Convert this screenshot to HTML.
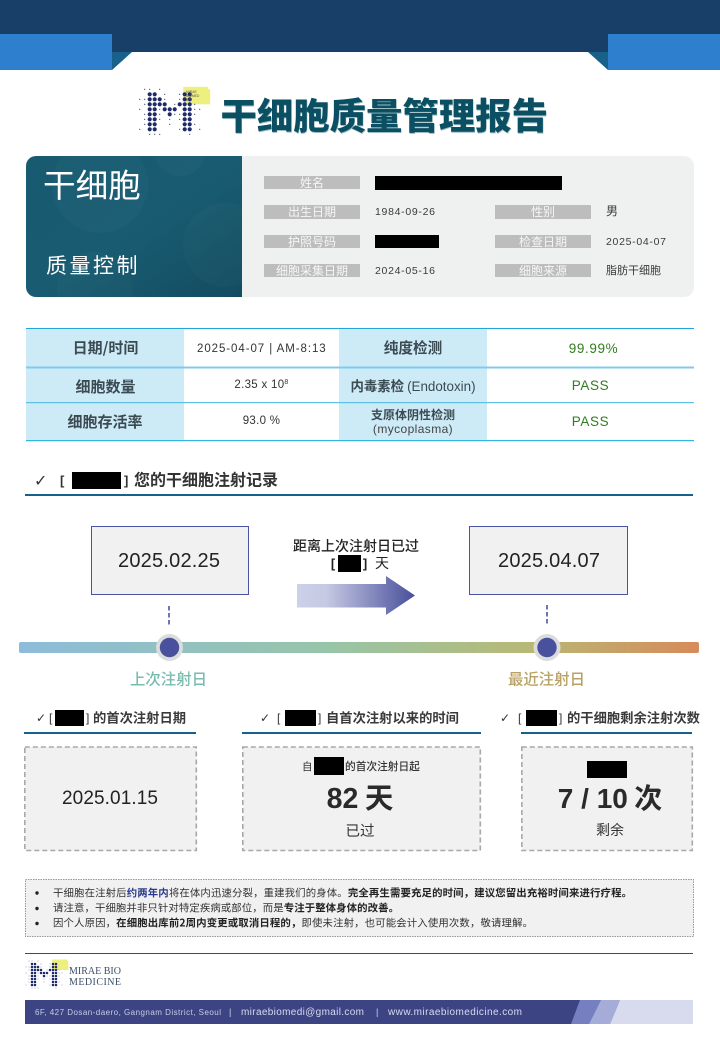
<!DOCTYPE html>
<html lang="zh"><head><meta charset="utf-8"><title>干细胞质量管理报告</title>
<style>
html,body{margin:0;padding:0;background:#fff}
svg{display:block}
text{font-family:"Liberation Sans","Noto Sans CJK SC",sans-serif;fill:#333}
.cj{font-family:"Noto Sans CJK SC","Liberation Sans",sans-serif}
.c{text-anchor:middle}
.b{font-weight:700}
.lb{font-size:12px;fill:#f6f6f6;text-anchor:middle;font-family:"Noto Sans CJK SC",sans-serif}
.v{font-size:10.5px;fill:#3a3a3a}
.th{font-size:15px;font-weight:700;fill:#3c4a52;text-anchor:middle;font-family:"Noto Sans CJK SC",sans-serif}
.td{font-size:11.5px;fill:#333;text-anchor:middle;letter-spacing:.3px}
.g{font-size:13.5px;fill:#2f7d1e;text-anchor:middle;letter-spacing:.6px}
.sh{font-size:13.3px;font-weight:700;fill:#3a3a3a;font-family:"Noto Sans CJK SC",sans-serif}
.n{font-size:10.4px;fill:#333;font-family:"Noto Sans CJK SC",sans-serif}
.nb{font-weight:700;fill:#222}
</style></head><body>
<svg width="720" height="1040" viewBox="0 0 720 1040" xmlns="http://www.w3.org/2000/svg">
<defs>
<linearGradient id="pn" x1="0" y1="0" x2="1" y2="1"><stop offset="0" stop-color="#185a70"/><stop offset=".5" stop-color="#195c72"/><stop offset="1" stop-color="#134c60"/></linearGradient>
<linearGradient id="ar" x1="0" x2="1"><stop offset="0" stop-color="#cdd0e8"/><stop offset=".25" stop-color="#c6c9e3"/><stop offset="1" stop-color="#484f9c"/></linearGradient>
<linearGradient id="tl" x1="0" x2="1"><stop offset="0" stop-color="#8dbcdb"/><stop offset=".45" stop-color="#97c5a9"/><stop offset=".75" stop-color="#b7b975"/><stop offset="1" stop-color="#d78a5a"/></linearGradient>
<clipPath id="cp"><rect x="26" y="156" width="216" height="141"/></clipPath>
<g id="logo">
<rect x="43.5" y="-2.5" width="25" height="15" fill="#eef07e"/><rect x="45.5" y="0" width="25" height="15" fill="#eef07e"/>
<path fill="none" stroke="#1f2b68" stroke-width="1.2" stroke-linecap="round" d="M5 0h0M10 0h0M20 0h0M25 5h0M40 5h0M0 10h0M5 10h0M25 10h0M40 10h0M5 15h0M35 15h0M55 15h0M0 20h0M20 20h0M55 20h0M60 20h0M5 25h0M20 25h0M35 25h0M40 25h0M55 25h0M5 30h0M20 30h0M30 30h0M40 30h0M5 35h0M30 35h0M55 35h0M0 40h0M40 40h0M60 40h0M10 45h0M15 45h0M20 45h0M50 45h0"/>
<path fill="none" stroke="#1f2b68" stroke-width="4.2" stroke-linecap="round" d="M10 5h0M15 5h0M45 5h0M50 5h0M10 10h0M15 10h0M20 10h0M45 10h0M50 10h0M10 15h0M15 15h0M20 15h0M25 15h0M40 15h0M45 15h0M50 15h0M10 20h0M15 20h0M25 20h0M30 20h0M35 20h0M45 20h0M50 20h0M10 25h0M15 25h0M30 25h0M45 25h0M50 25h0M10 30h0M15 30h0M45 30h0M50 30h0M10 35h0M15 35h0M45 35h0M50 35h0M10 40h0M15 40h0M45 40h0M50 40h0"/>
</g>
</defs>

<!-- header -->
<rect width="720" height="52" fill="#173f67"/>
<path d="M112 52h20L112 70zM588 52h20v18z" fill="#17618a"/>
<rect x="0" y="34" width="112" height="36" fill="#2e7fcd"/>
<rect x="608" y="34" width="112" height="36" fill="#2e7fcd"/>

<!-- title -->
<use href="#logo" x="139.7" y="89.3"/>
<text x="186" y="93" font-size="3.4" style="fill:#555">MIRAE</text><text x="186" y="97" font-size="3.4" style="fill:#555">BIOMED</text><text x="186" y="101" font-size="3.4" style="fill:#555">BIO</text>
<text x="221" y="130" class="cj" font-size="36.4" style="fill:#9dbcc4;font-weight:900">干细胞质量管理报告</text>
<text x="220.5" y="129" class="cj" font-size="36.4" style="fill:#0b4f63;font-weight:900">干细胞质量管理报告</text>

<!-- card -->
<rect x="26" y="156" width="668" height="141" rx="10" fill="#eff0f0"/>
<path d="M36 156H242V297H36a10 10 0 0 1-10-10V166a10 10 0 0 1 10-10z" fill="url(#pn)"/>
<g clip-path="url(#cp)" fill="#fff" fill-opacity=".02"><circle cx="100" cy="185" r="48"/><circle cx="225" cy="245" r="42"/><circle cx="95" cy="290" r="38"/><circle cx="180" cy="150" r="26"/></g>
<text x="43" y="197" class="cj" font-size="32.6" style="fill:#fff;font-weight:400">干细胞</text>
<text x="46" y="273" class="cj" font-size="21" letter-spacing="2.5" style="fill:#fff;font-weight:400">质量控制</text>
<g fill="#bdbdbd">
<rect x="264" y="176" width="96" height="13"/><rect x="264" y="205" width="96" height="14"/><rect x="264" y="235" width="96" height="13"/><rect x="264" y="264" width="96" height="13"/>
<rect x="495" y="205" width="96" height="14"/><rect x="495" y="235" width="96" height="13"/><rect x="495" y="264" width="96" height="13"/>
</g>
<text x="312" y="187" class="lb">姓名</text><text x="312" y="216" class="lb">出生日期</text><text x="312" y="246" class="lb">护照号码</text><text x="312" y="275" class="lb">细胞采集日期</text>
<text x="543" y="216" class="lb">性别</text><text x="543" y="246" class="lb">检查日期</text><text x="543" y="275" class="lb">细胞来源</text>
<rect x="375" y="176" width="187" height="14" fill="#000"/><rect x="375" y="235" width="64" height="13" fill="#000"/>
<text x="375" y="215" class="v" textLength="60">1984-09-26</text><text x="375" y="274" class="v" textLength="60">2024-05-16</text>
<text x="606" y="215" class="cj" font-size="12" style="fill:#3a3a3a">男</text><text x="606" y="245" class="v" textLength="60">2025-04-07</text><text x="606" y="274" class="cj" font-size="11" style="fill:#3a3a3a">脂肪干细胞</text>

<!-- table -->
<rect x="26" y="329" width="158" height="111" fill="#cdebf7"/><rect x="339" y="329" width="148" height="111" fill="#cdebf7"/>
<rect x="26" y="328" width="668" height="1" fill="#22a5d8"/>
<rect x="26" y="366.5" width="668" height="2" fill="#7fcbe8"/>
<rect x="26" y="402" width="668" height="1.2" fill="#5dc0e4"/>
<rect x="26" y="440" width="668" height="1.2" fill="#35b3e0"/>
<text x="105.5" y="353" class="th">日期/时间</text><text x="105.5" y="392" class="th">细胞数量</text><text x="105" y="427" class="th">细胞存活率</text>
<text x="413" y="353" class="th" style="font-size:14.6px">纯度检测</text>
<text x="413" y="391" font-size="13.4" class="c cj" style="font-weight:700;fill:#3c4a52">内毒素检 <tspan style="font-weight:400;font-family:'Liberation Sans'">(Endotoxin)</tspan></text>
<text x="413" y="419" font-size="12" class="c cj" style="font-weight:700;fill:#3c4a52">支原体阴性检测</text>
<text x="413" y="433" font-size="12" class="c" letter-spacing=".4" style="fill:#444">(mycoplasma)</text>
<text x="261.5" y="352" class="td" textLength="129">2025-04-07 | AM-8:13</text>
<text x="261.5" y="388" class="td">2.35 x 10<tspan font-size="7" dy="-4">8</tspan></text>
<text x="261.5" y="424" class="td">93.0 %</text>
<text x="593.5" y="353" class="g">99.99%</text><text x="590.5" y="390" class="g">PASS</text><text x="590.5" y="426" class="g">PASS</text>

<!-- section -->
<text x="34" y="486" font-size="16" style="fill:#333;font-family:'DejaVu Sans';font-weight:700">✓</text>
<text x="60" y="485" class="b" font-size="13" style="fill:#333">[</text>
<rect x="72" y="472" width="49" height="17" fill="#000"/>
<text x="124" y="485" class="b" font-size="13" style="fill:#333">]</text>
<text x="134" y="485.5" class="cj b" font-size="16" style="fill:#333">您的干细胞注射记录</text>
<rect x="25" y="494" width="668" height="2" fill="#17618a"/>

<!-- timeline -->
<rect x="91.5" y="526.5" width="157" height="68" fill="#f1f1f1" stroke="#4a54a0"/>
<rect x="469.5" y="526.5" width="158" height="68" fill="#f1f1f1" stroke="#4a54a0"/>
<text x="118" y="567" font-size="20" textLength="102" style="fill:#222">2025.02.25</text>
<text x="498" y="567" font-size="20" textLength="102" style="fill:#222">2025.04.07</text>
<text x="356" y="551" class="c cj" font-size="14" style="fill:#222;font-weight:500">距离上次注射日已过</text>
<text x="333" y="568" class="c b" font-size="13" style="fill:#222">[</text>
<rect x="338" y="555" width="23" height="17" fill="#000"/>
<text x="365" y="568" class="c b" font-size="13" style="fill:#222">]</text>
<text x="382" y="568" class="c cj" font-size="14" style="fill:#222">天</text>
<path d="M297 584H386V576L415 595.5 386 615V607.5H297z" fill="url(#ar)"/>
<path d="M169 606V625M547 605V624" stroke="#4a54a0" stroke-width="1.6" stroke-dasharray="4.5 2.5" fill="none"/>
<rect x="19" y="642" width="680" height="11" rx="2" fill="url(#tl)"/>
<circle cx="169.5" cy="647.5" r="13.5" fill="#dcdcdc"/><circle cx="169.5" cy="647.5" r="9.7" fill="#49519e"/>
<circle cx="547" cy="647.5" r="13.5" fill="#dcdcdc"/><circle cx="547" cy="647.5" r="9.7" fill="#49519e"/>
<text x="168.5" y="684.5" class="c cj" font-size="15.4" style="fill:#78bcae;font-weight:500">上次注射日</text>
<text x="546.5" y="684.5" class="c cj" font-size="15.4" style="fill:#b8a162;font-weight:500">最近注射日</text>

<!-- three columns -->
<text x="36" y="722" font-size="12" style="fill:#333;font-family:'DejaVu Sans'">✓</text>
<text x="49" y="722" font-size="12" style="fill:#333">[</text>
<rect x="55" y="710" width="29" height="16" fill="#000"/>
<text x="86" y="722" font-size="12" style="fill:#333">]</text>
<text x="93" y="722.5" class="sh">的首次注射日期</text>
<rect x="24" y="732" width="172" height="2" fill="#17618a"/>

<text x="260" y="722" font-size="12" style="fill:#333;font-family:'DejaVu Sans'">✓</text>
<text x="277" y="722" font-size="12" style="fill:#333">[</text>
<rect x="285" y="710" width="31" height="16" fill="#000"/>
<text x="318" y="722" font-size="12" style="fill:#333">]</text>
<text x="326" y="722.5" class="sh">自首次注射以来的时间</text>
<rect x="242" y="732" width="239" height="2" fill="#17618a"/>

<text x="500" y="722" font-size="12" style="fill:#333;font-family:'DejaVu Sans'">✓</text>
<text x="518" y="722" font-size="12" style="fill:#333">[</text>
<rect x="526" y="710" width="31" height="16" fill="#000"/>
<text x="559" y="722" font-size="12" style="fill:#333">]</text>
<text x="567" y="722.5" class="sh">的干细胞剩余注射次数</text>
<rect x="521" y="732" width="171" height="2" fill="#17618a"/>

<g fill="#f1f1f1" stroke="#a8a8a8" stroke-width="1.6" stroke-dasharray="5 3">
<rect x="24.8" y="747" width="171.5" height="103.5"/>
<rect x="242.8" y="747" width="237.5" height="103.5"/>
<rect x="521.8" y="747" width="170.5" height="103.5"/>
</g>
<text x="62" y="804" font-size="19" textLength="96" style="fill:#222">2025.01.15</text>
<text x="302" y="770" class="cj" font-size="10.5" style="fill:#333">自</text>
<rect x="314" y="757" width="30" height="18" fill="#000"/>
<text x="345" y="770" class="cj" font-size="10.7" style="fill:#333;font-weight:500">的首次注射日起</text>
<text x="360" y="808" class="c cj b" font-size="28.5" style="fill:#2a2a2a"><tspan font-family="Liberation Sans">82</tspan> 天</text>
<text x="360" y="836" class="c cj" font-size="14.5" style="fill:#333">已过</text>
<rect x="587" y="761" width="40" height="17" fill="#000"/>
<text x="610" y="808" class="c cj b" font-size="28" style="fill:#2a2a2a"><tspan font-family="Liberation Sans">7 / 10</tspan> 次</text>
<text x="610" y="835" class="c cj" font-size="14" style="fill:#333">剩余</text>

<!-- notes -->
<rect x="25.5" y="879.5" width="668" height="57" fill="#f1f1f1" stroke="#999" stroke-dasharray="1.5 1"/>
<circle cx="37" cy="893" r="1.7" fill="#222"/><circle cx="37" cy="908.5" r="1.7" fill="#222"/><circle cx="37" cy="923.5" r="1.7" fill="#222"/>
<text x="53" y="896.5" class="n" textLength="579">干细胞在注射后<tspan class="nb" style="fill:#2c3a8c">约两年内</tspan>将在体内迅速分裂，重建我们的身体。<tspan class="nb">完全再生需要充足的时间，建议您留出充裕时间来进行疗程。</tspan></text>
<text x="53" y="911.5" class="n" textLength="346">请注意，干细胞并非只针对特定疾病或部位，而是<tspan class="nb">专注于整体身体的改善。</tspan></text>
<text x="53" y="926.5" class="n" textLength="480">因个人原因，<tspan class="nb">在细胞出库前2周内变更或取消日程的，</tspan>即使未注射，也可能会计入使用次数，敬请理解。</text>

<!-- footer -->
<rect x="25" y="953" width="668" height="1" fill="#1c5a72"/>
<g transform="translate(26 961) scale(.6)"><use href="#logo"/></g>
<text x="69" y="974" font-size="10" textLength="52" style="font-family:'Liberation Serif';fill:#3c5068">MIRAE BIO</text>
<text x="69" y="985" font-size="10" textLength="52" style="font-family:'Liberation Serif';fill:#3c5068">MEDICINE</text>
<rect x="25" y="1000" width="668" height="24" fill="#3c4484"/>
<path d="M571 1024L580 1000H601L589 1024z" fill="#7680c0"/>
<path d="M589 1024L601 1000H620L610 1024z" fill="#a6acd8"/>
<path d="M610 1024L620 1000H693V1024z" fill="#d8daee"/>
<text x="35" y="1015" font-size="8" textLength="186" style="fill:#c8cce4">6F, 427 Dosan-daero, Gangnam District, Seoul</text>
<text x="229" y="1015" font-size="9" style="fill:#d8daee">|</text>
<text x="241" y="1015" font-size="10" textLength="123" style="fill:#d8daee">miraebiomedi@gmail.com</text>
<text x="376" y="1015" font-size="9" style="fill:#d8daee">|</text>
<text x="388" y="1015" font-size="10" textLength="134" style="fill:#d8daee">www.miraebiomedicine.com</text>
</svg>
</body></html>
